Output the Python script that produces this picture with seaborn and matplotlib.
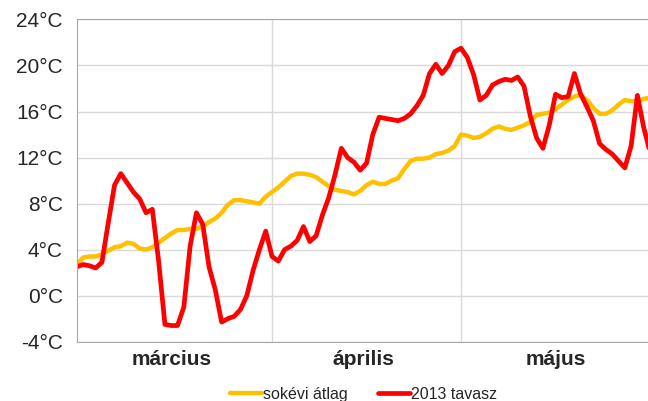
import seaborn as sns
import pandas as pd
import matplotlib.pyplot as plt

# daily mean temperatures, 1 March .. 31 May
atlag = [2.7, 3.3, 3.4, 3.4, 3.6, 3.9, 4.2, 4.3, 4.6, 4.5,
         4.1, 4.0, 4.2, 4.6, 5.0, 5.4, 5.7, 5.7, 5.8, 5.8,
         6.0, 6.4, 6.7, 7.2, 7.9, 8.3, 8.3, 8.2, 8.1, 8.0,
         8.6, 9.0, 9.4, 9.9, 10.4, 10.6, 10.6, 10.5, 10.3, 9.9,
         9.5, 9.2, 9.1, 9.0, 8.8, 9.1, 9.6, 9.9, 9.7, 9.7,
         10.0, 10.2, 11.0, 11.7, 11.9, 11.9, 12.0, 12.3, 12.4, 12.6,
         13.0, 14.0, 13.9, 13.7, 13.8, 14.1, 14.5, 14.7, 14.5, 14.4,
         14.6, 14.8, 15.1, 15.7, 15.8, 15.9, 16.2, 16.6, 17.0, 17.3,
         17.45, 17.0, 16.3, 15.8, 15.8, 16.1, 16.6, 17.0, 16.9, 16.9,
         17.1, 17.2]
tavasz = [2.5, 2.7, 2.6, 2.4, 2.9, 6.3, 9.6, 10.6, 9.8, 9.0,
          8.4, 7.2, 7.5, 3.0, -2.5, -2.6, -2.6, -1.0, 4.3, 7.2,
          6.2, 2.5, 0.5, -2.3, -2.0, -1.8, -1.2, 0.0, 2.2, 4.0,
          5.6, 3.4, 3.0, 4.0, 4.3, 4.8, 6.0, 4.7, 5.2, 7.0,
          8.5, 10.5, 12.8, 12.0, 11.6, 10.9, 11.5, 14.0, 15.5, 15.4,
          15.3, 15.2, 15.4, 15.8, 16.5, 17.4, 19.3, 20.1, 19.3, 20.0,
          21.2, 21.5, 20.7, 19.2, 17.0, 17.4, 18.3, 18.6, 18.8, 18.7,
          19.0, 18.2, 15.6, 13.7, 12.8, 14.8, 17.5, 17.2, 17.3, 19.3,
          17.5, 16.4, 15.2, 13.2, 12.7, 12.3, 11.7, 11.1, 13.0, 17.4,
          14.6, 12.5]
honapok = ["március", "április", "május"]
honap_napok = [31, 30, 31]
y_ticks = [-4, 0, 4, 8, 12, 16, 20, 24]

sns.set_style("white")
plt.rcParams['font.family'] = ['Liberation Sans', 'DejaVu Sans']

df = pd.DataFrame({"nap": range(len(atlag)), "sokévi átlag": atlag, "2013 tavasz": tavasz})

fig = plt.figure(figsize=(6.48, 4.01), dpi=100)
ax = fig.add_axes([0.1184, 0.148, 0.8847, 0.8035])

sns.lineplot(data=df, x="nap", y="sokévi átlag", color="#FFC000", linewidth=3.2,
             label="sokévi átlag", ax=ax, solid_joinstyle="round", solid_capstyle="round")
sns.lineplot(data=df, x="nap", y="2013 tavasz", color="#FF0000", linewidth=3.4,
             label="2013 tavasz", ax=ax, solid_joinstyle="round", solid_capstyle="round")

ax.set_xlim(0, len(atlag) - 1)
ax.set_ylim(-4, 24)
ax.set_yticks(y_ticks)
ax.set_yticklabels([f"{v}°C" for v in y_ticks], fontsize=15)
ax.tick_params(axis="y", length=6, color="#A6A6A6", pad=4)

# month names in the middle, month boundaries as vertical lines
hatarok = [0]
for n in honap_napok:
    hatarok.append(hatarok[-1] + n)
kozep = [(hatarok[i] + hatarok[i + 1] - 1) / 2 for i in range(len(honapok))]
ax.set_xticks(kozep)
ax.set_xticklabels(honapok, fontsize=15, fontweight="bold")
ax.tick_params(axis="x", length=0, pad=6)
ax.set_xticks(hatarok[1:-1], minor=True)
ax.tick_params(axis="x", which="minor", length=0)

ax.grid(axis="y", color="#D9D9D9", linewidth=1)
ax.grid(axis="x", which="minor", color="#D9D9D9", linewidth=1)
ax.set_axisbelow(True)
ax.set_xlabel("")
ax.set_ylabel("")

ax.spines["right"].set_visible(False)
ax.spines["top"].set_color("#A6A6A6")
ax.spines["left"].set_color("#A6A6A6")
ax.spines["bottom"].set_color("#A6A6A6")

ax.legend(loc="center", bbox_to_anchor=(0.5, -0.163), ncol=2, frameon=False,
          fontsize=11.5, handlelength=2.0, handletextpad=0.05, columnspacing=1.9,
          borderpad=0)

plt.savefig("out.png", dpi=100)
